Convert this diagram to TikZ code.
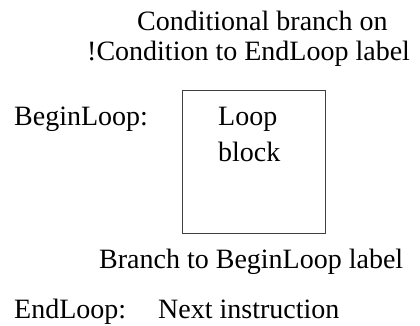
\documentclass[tikz,border=0pt]{standalone}
\usepackage{fontspec}
\setmainfont{Liberation Serif}
\begin{document}
\begin{tikzpicture}[x=1pt,y=-1pt,
  txt/.style={anchor=base west,inner sep=0pt,font=\fontsize{28}{32}\selectfont},
  blockbox/.style={draw=black!75,line width=1.1pt,inner sep=0pt,
    minimum width=143pt,minimum height=143pt,anchor=north west}]
\useasboundingbox (0,0) rectangle (420,326);
\node[txt] (cond1) at (137,31) {Conditional branch on};
\node[txt] (cond2) at (87,61) {!Condition to EndLoop label};
\node[txt] (begin) at (14,126) {BeginLoop:};
\node[blockbox] (box) at (182,90) {};
\node[txt] (loop) at (218,126) {Loop};
\node[txt] (block) at (218,161) {block};
\node[txt] (branch) at (99,268) {Branch to BeginLoop label};
\node[txt] (end) at (14,318) {EndLoop:};
\node[txt] (next) at (158,318) {Next instruction};
\end{tikzpicture}
\end{document}
